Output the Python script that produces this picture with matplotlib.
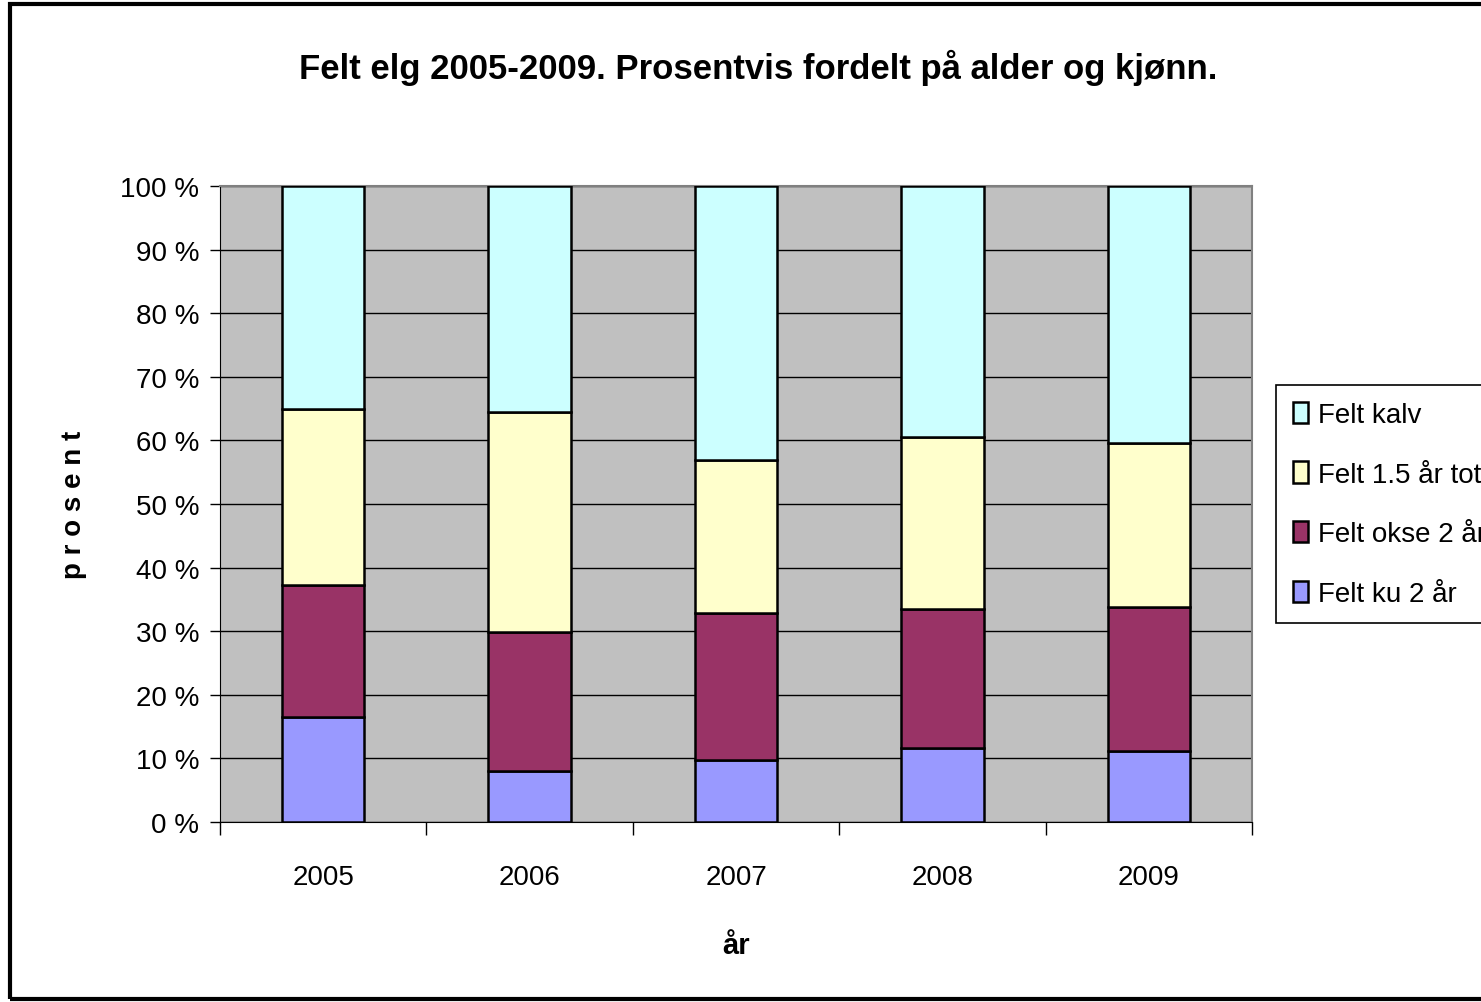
import matplotlib.pyplot as plt
import numpy as np
from matplotlib.patches import Rectangle

plt.rcParams['font.family'] = ['Liberation Sans Narrow', 'Liberation Sans', 'DejaVu Sans']

# Data (prosent av felt elg)
aar = ['2005', '2006', '2007', '2008', '2009']
ku_2 = [16.5, 8.0, 9.7, 11.6, 11.2]
okse_2 = [20.8, 21.9, 23.2, 21.9, 22.6]
aar_15 = [27.6, 34.6, 24.0, 27.0, 25.8]
kalv = [35.1, 35.5, 43.1, 39.5, 40.4]

serier = [('Felt ku 2 år', ku_2, '#9999FF'),
          ('Felt okse 2 år', okse_2, '#993366'),
          ('Felt 1.5 år totalt', aar_15, '#FFFFCC'),
          ('Felt kalv', kalv, '#CCFFFF')]

fig = plt.figure(figsize=(14.81, 10.03), dpi=100)
ax = fig.add_axes([220/1481, 1 - 823/1003, (1252-220)/1481, (823-187)/1003])
ax.set_facecolor('#C0C0C0')

x = np.arange(len(aar))
bunn = np.zeros(len(aar))
handles = []
for navn, verdier, farge in serier:
    v = np.array(verdier)
    b = ax.bar(x, v, 0.4, bottom=bunn, color=farge, edgecolor='black',
               linewidth=1.8, label=navn, zorder=3)
    handles.append(b)
    bunn = bunn + v

ax.set_xlim(-0.5, len(aar) - 0.5)
ax.set_ylim(0, 100)
ax.set_yticks(range(0, 101, 10))
ax.set_yticklabels([f'{v} %' for v in range(0, 101, 10)], fontsize=20)
ax.yaxis.grid(True, color='black', linewidth=1.0, zorder=1)
ax.set_axisbelow(True)

ax.set_xticks(x)
ax.set_xticklabels(aar, fontsize=20)
ax.tick_params(axis='x', length=0, pad=30)
ax.set_xticks(np.arange(-0.5, len(aar)), minor=True)
ax.tick_params(axis='x', which='minor', length=9, width=1, direction='out')
ax.tick_params(axis='y', length=7, width=1, direction='out', pad=8)

for s in ['top', 'right']:
    ax.spines[s].set_color('#808080')
    ax.spines[s].set_linewidth(1.5)
ax.spines['left'].set_color('black')
ax.spines['bottom'].set_color('black')

ax.set_xlabel('år', fontsize=21, fontweight='bold', labelpad=30)
ax.set_ylabel('p r o s e n t', fontsize=20, fontweight='bold', labelpad=24)

fig.text(0.512, 1 - 68/1003, 'Felt elg 2005-2009. Prosentvis fordelt på alder og kjønn.',
         fontsize=25, fontweight='bold', ha='center', va='center')

leg = ax.legend(handles[::-1], [s[0] for s in serier][::-1],
                loc='upper left', bbox_to_anchor=(1276/1481, 1 - 386/1003),
                bbox_transform=fig.transFigure, fontsize=20, frameon=True,
                fancybox=False, edgecolor='black', framealpha=1,
                handlelength=0.55, handleheight=0.8, handletextpad=0.35,
                labelspacing=1.2, borderpad=0.6, borderaxespad=0)
leg.get_frame().set_linewidth(1.2)

# Ramme rundt hele figuren
fig.patches.append(Rectangle((10/1481, 3/1003), 1.2, 1 - 8/1003,
                             transform=fig.transFigure, fill=False,
                             edgecolor='black', linewidth=3))

fig.savefig('out.png', dpi=100)
